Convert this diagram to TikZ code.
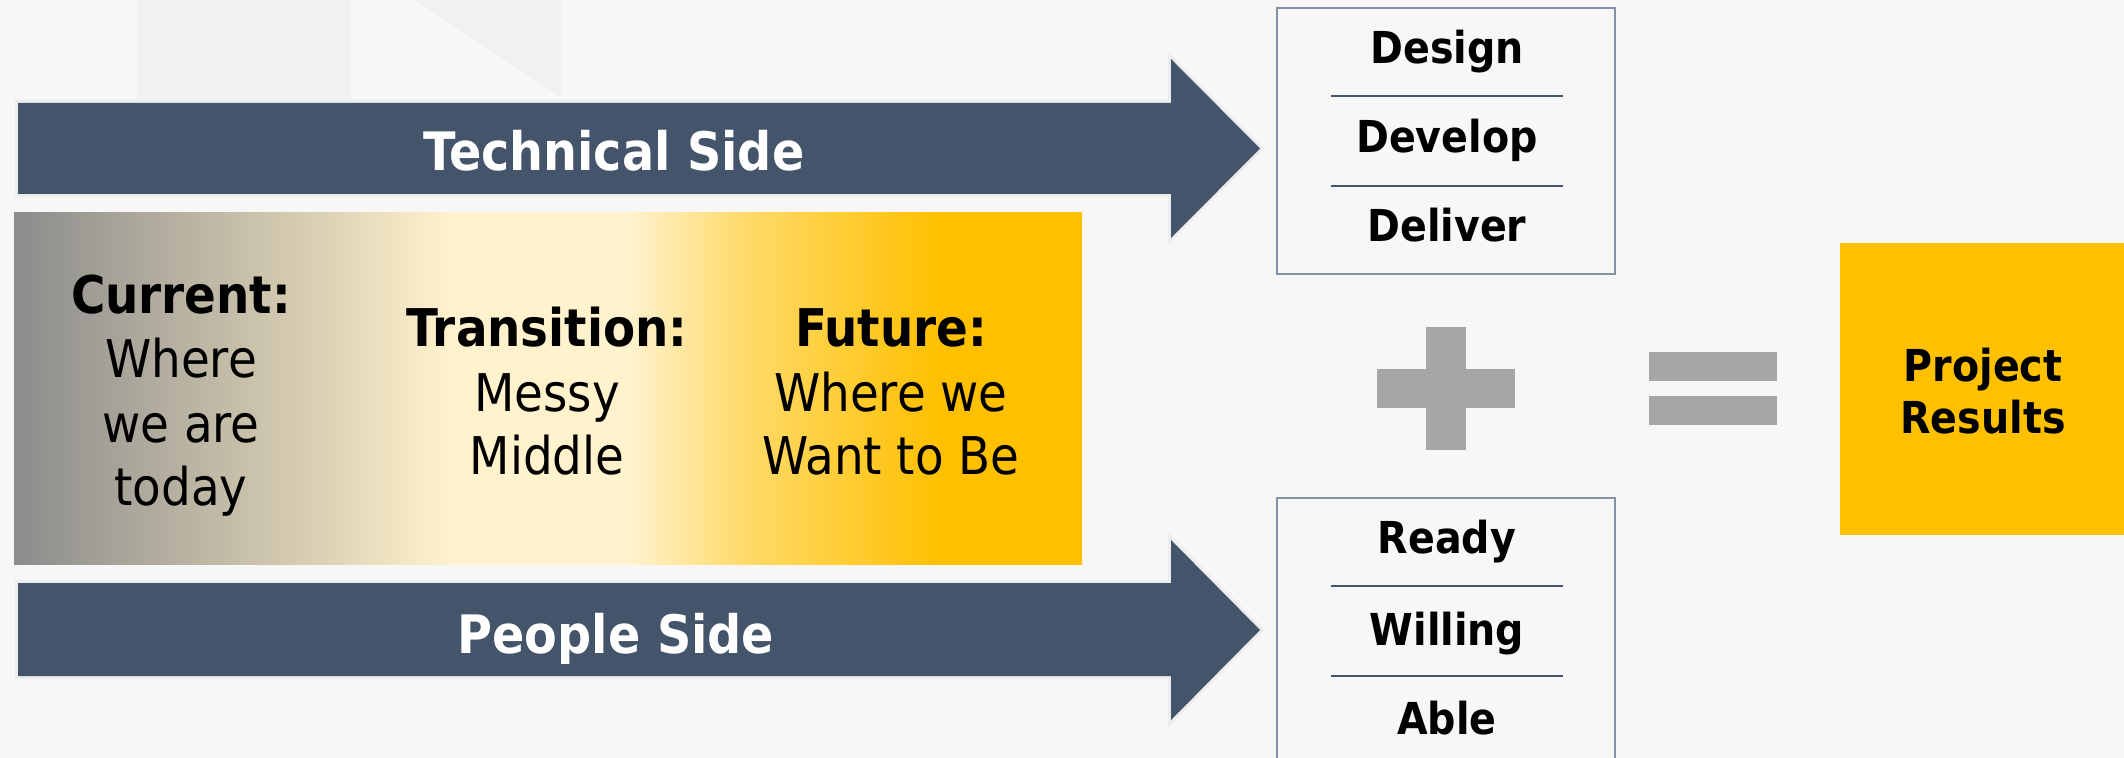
\documentclass[tikz,border=0pt]{standalone}
\usepackage{fontspec}
\setmainfont{DejaVu Sans Condensed}
\definecolor{bgc}{HTML}{F7F7F7}
\definecolor{wmc}{HTML}{F1F1F1}
\definecolor{arrowc}{HTML}{44546A}
\definecolor{glowc}{HTML}{EDEDED}
\definecolor{boxc}{HTML}{8591A6}
\definecolor{divc}{HTML}{44546A}
\definecolor{symc}{HTML}{A6A6A6}
\definecolor{goldc}{HTML}{FFC000}
\definecolor{cgray}{HTML}{8C8C8C}
\definecolor{cbeige}{HTML}{D8CEB2}
\definecolor{ccream}{HTML}{FFF2CC}
\definecolor{cyl}{HTML}{FFDA6A}
\pgfdeclarehorizontalshading{cfshade}{100bp}{color(0bp)=(cgray); color(25bp)=(cgray); color(38.8bp)=(cbeige); color(45.4bp)=(ccream); color(53.9bp)=(ccream); color(59.2bp)=(cyl); color(68.4bp)=(goldc); color(100bp)=(goldc)}
\newcommand\fArrow{\fontsize{26.5}{32}\selectfont\bfseries}
\newcommand\fStage{\fontsize{26}{32}\selectfont}
\newcommand\fItem{\fontsize{22}{26}\selectfont\bfseries}
\begin{document}
\begin{tikzpicture}[x=0.5pt,y=-0.5pt,
  arrowshape/.style={fill=arrowc, preaction={draw=glowc, line width=3pt, line join=miter}},
  arrowtext/.style={anchor=base, text=white, font=\fArrow, inner sep=0pt},
  stagetext/.style={anchor=base, text=black, font=\fStage, align=center, inner sep=0pt},
  itemtext/.style={anchor=base, text=black, font=\fItem, inner sep=0pt},
  listbox/.style={draw=boxc, line width=1pt, fill=none},
  divider/.style={draw=divc, line width=1pt},
  symbar/.style={fill=symc}]
\useasboundingbox (0,0) rectangle (2124,758);
% background
\fill[bgc] (0,0) rectangle (2124,758);
\fill[wmc] (137,0) rectangle (351,100);
\fill[wmc] (414,0) -- (561,0) -- (561,97) -- cycle;
% gradient band
\shade[shading=cfshade] (14,213) rectangle (1082,564);
% arrows
\path[arrowshape] (18,103) -- (1171,103) -- (1171,59) -- (1260,148.5) -- (1171,238) -- (1171,194) -- (18,194) -- cycle;
\path[arrowshape] (18,583) -- (1171,583) -- (1171,540) -- (1260,630) -- (1171,720) -- (1171,676) -- (18,676) -- cycle;
\node[arrowtext] (tech) at (614,171) {Technical Side};
\node[arrowtext] (people) at (616,653) {People Side};
% stage texts (base = last line)
\node[stagetext] (cur) at (181,506) {\bfseries Current:\\Where\\we are\\today};
\node[stagetext] (trans) at (547,475) {\bfseries Transition:\\Messy\\Middle};
\node[stagetext] (fut) at (891,475) {\bfseries Future:\\Where we\\Want to Be};
% top list box
\draw[listbox] (1277,8) rectangle (1615,274);
\draw[divider] (1331,96) -- (1563,96);
\draw[divider] (1331,186) -- (1563,186);
\node[itemtext] (design) at (1447,64) {Design};
\node[itemtext] (develop) at (1447,153) {Develop};
\node[itemtext] (deliver) at (1447,242) {Deliver};
% bottom list box
\draw[listbox] (1277,770) -- (1277,498) -- (1615,498) -- (1615,770);
\draw[divider] (1331,586) -- (1563,586);
\draw[divider] (1331,676) -- (1563,676);
\node[itemtext] (ready) at (1447,553) {Ready};
\node[itemtext] (willing) at (1447,645) {Willing};
\node[itemtext] (able) at (1447,734) {Able};
% plus
\fill[symbar] (1426,327) rectangle (1466,450);
\fill[symbar] (1377,369) rectangle (1515,408);
% equals
\fill[symbar] (1649,352) rectangle (1777,381);
\fill[symbar] (1649,396) rectangle (1777,425);
% result
\fill[goldc] (1840,243) rectangle (2124,535);
\node[itemtext, align=center, font=\fItem] (result) at (1983,434) {Project\\Results};
\end{tikzpicture}
\end{document}
